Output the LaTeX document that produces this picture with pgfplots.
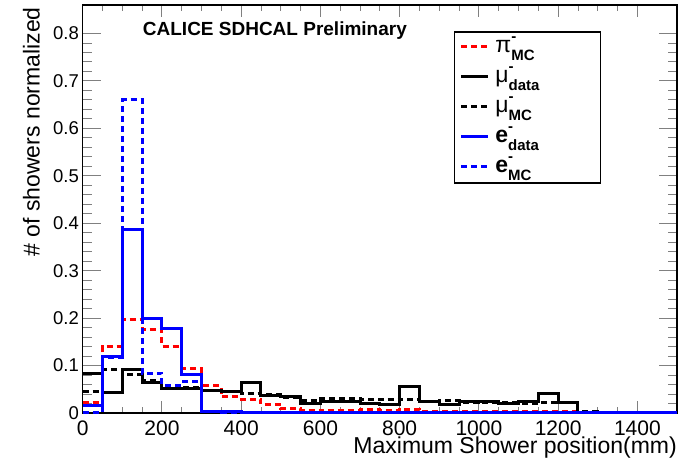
\documentclass[border=0pt]{standalone}
\usepackage{pgfplots}
\usepackage{pgfplotstable}
\pgfplotsset{compat=1.18}
\usepackage{fontspec}
\setmainfont{Liberation Sans}

% Normalised shower-maximum distributions, 50 mm bins (lower edge, content).
% The closing row repeats the last level out to the axis end.
\pgfplotstableread{
x y
0 0.022
50 0.140
100 0.197
150 0.176
200 0.140
250 0.093
300 0.057
350 0.034
400 0.029
450 0.018
500 0.009
550 0.005
600 0.006
650 0.006
700 0.008
750 0.005
800 0.008
850 0.004
900 0.004
950 0.004
1000 0.003
1050 0.003
1100 0.003
1150 0.003
1200 0.003
1250 0
1500 0
}\pimc

\pgfplotstableread{
x y
0 0.084
50 0.044
100 0.091
150 0.064
200 0.052
250 0.051
300 0.047
350 0.046
400 0.064
450 0.036
500 0.034
550 0.020
600 0.024
650 0.024
700 0.020
750 0.017
800 0.056
850 0.024
900 0.018
950 0.025
1000 0.025
1050 0.020
1100 0.024
1150 0.041
1200 0.023
1250 0
1500 0
}\mudata

\pgfplotstableread{
x y
0 0.046
50 0.091
100 0.082
150 0.068
200 0.057
250 0.053
300 0.048
350 0.045
400 0.041
450 0.038
500 0.032
550 0.027
600 0.031
650 0.031
700 0.029
750 0.028
800 0.029
850 0.025
900 0.026
950 0.022
1000 0.023
1050 0.023
1100 0.021
1150 0.022
1200 0.022
1250 0.004
1300 0
1500 0
}\mumc

\pgfplotstableread{
x y
0 0.015
50 0.120
100 0.386
150 0.199
200 0.179
250 0.082
300 0.004
350 0.003
400 0.001
450 0
1500 0
}\edata

\pgfplotstableread{
x y
0 0.002
50 0.117
100 0.660
150 0.084
200 0.059
250 0.066
300 0.003
350 0
1500 0
}\emc

\newcommand{\subsz}{\fontsize{15}{15}\selectfont\bfseries}
\newcommand{\mainsz}{\fontsize{23}{23}\selectfont}
% particle label: main symbol, "-" superscript stacked over a subscript
\newcommand{\leg}[2]{\makebox[100pt][l]{\mainsz #1\rlap{\raisebox{11pt}{\subsz -}}\raisebox{-8.5pt}{\subsz #2}}}

\begin{document}
\begin{tikzpicture}
\path[use as bounding box] (0,0) rectangle (680pt,465pt);
\begin{axis}[
  at={(82.7pt,52pt)}, anchor=south west,
  scale only axis, width=594.3pt, height=408pt,
  xmin=0, xmax=1500, ymin=0, ymax=0.86,
  clip=false,
  axis line style={line width=1.4pt},
  tick align=inside,
  xtick={0,200,...,1400}, minor x tick num=3,
  ytick={0,0.1,...,0.8}, minor y tick num=4,
  xtick style={line width=0.9pt, /pgfplots/major tick length=12pt, /pgfplots/minor tick length=6pt},
  ytick style={line width=0.9pt, /pgfplots/major tick length=18pt, /pgfplots/minor tick length=9pt},
  /pgf/number format/assume math mode=true,
  /pgf/number format/1000 sep={},
  xticklabel style={font=\fontsize{21}{21}\selectfont, anchor=base, inner sep=0pt, yshift=-22.5pt},
  yticklabel style={font=\fontsize{18.5}{18.5}\selectfont, anchor=east, inner sep=0pt, xshift=-3.7pt,
    /pgf/number format/fixed},
  xlabel={Maximum Shower position(mm)},
  xlabel style={font=\fontsize{23}{23}\selectfont, at={(rel axis cs:1,0)}, anchor=base east, inner sep=0pt, yshift=-41pt},
  ylabel={\# of showers normalized},
  ylabel style={font=\fontsize{23}{23}\selectfont, at={(rel axis cs:-0.0719,0.995)}, anchor=south east, inner sep=0pt},
  legend image code/.code={\draw[#1] (0pt,6pt) -- (27pt,6pt);},
  legend style={at={(0.6248,0.936)}, anchor=north west, draw=black, line width=1.4pt, fill=white,
    inner xsep=5pt, inner ysep=0.5pt, row sep=0pt, column sep=5.7pt,
    nodes={inner sep=0pt, text height=20pt, text depth=10pt},
    cells={anchor=base west}},
]
\addplot[const plot mark left, red, line width=3pt, dash pattern=on 6pt off 4pt] table {\pimc};
\addlegendentry{\leg{π}{MC}}
\addplot[const plot mark left, black, line width=3pt] table {\mudata};
\addlegendentry{\leg{μ}{data}}
\addplot[const plot mark left, black, line width=3pt, dash pattern=on 6pt off 4pt] table {\mumc};
\addlegendentry{\leg{μ}{MC}}
\addplot[const plot mark left, blue, line width=3pt] table {\edata};
\addlegendentry{\leg{\textbf{e}}{data}}
\addplot[const plot mark left, blue, line width=3pt, dash pattern=on 6pt off 4pt] table {\emc};
\addlegendentry{\leg{\textbf{e}}{MC}}
\node[anchor=base west, inner sep=0pt, font=\bfseries\fontsize{19}{19}\selectfont]
  at (rel axis cs:0.101,0.925) {CALICE SDHCAL Preliminary};
\end{axis}
\end{tikzpicture}
\end{document}
